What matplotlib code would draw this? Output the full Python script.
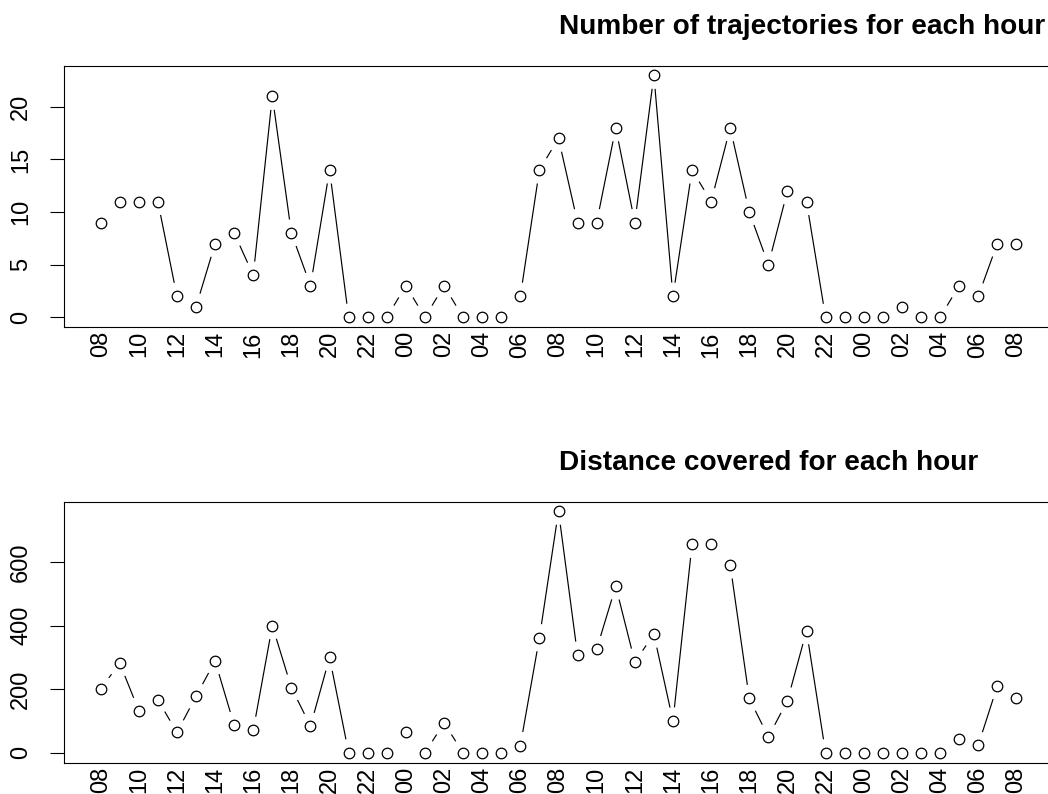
import numpy as np
import matplotlib
matplotlib.use("Agg")
import matplotlib.pyplot as plt

plt.rcParams['font.family'] = ['Liberation Sans', 'DejaVu Sans']

hours = ["08","09","10","11","12","13","14","15","16","17","18","19","20","21","22","23",
         "00","01","02","03","04","05","06","07","08","09","10","11","12","13","14","15",
         "16","17","18","19","20","21","22","23",
         "00","01","02","03","04","05","06","07","08"]

trajectories = [9,11,11,11,2,1,7,8,4,21,8,3,14,0,0,0,
                3,0,3,0,0,0,2,14,17,9,9,18,9,23,2,14,11,18,10,5,12,11,0,0,
                0,0,1,0,0,3,2,7,7]

distance = [201,282,133,167,64,178,289,87,71,400,205,84,300,0,0,0,
            65,0,94,0,0,0,23,362,760,307,326,524,286,373,100,656,657,591,171,50,164,384,0,0,
            0,0,0,0,0,43,24,210,174]

titles = ["Number of trajectories for each hour", "Distance covered for each hour"]
yticks_list = [[0,5,10,15,20],[0,200,400,600]]

W, H = 1048, 794
fig = plt.figure(figsize=(W/100, H/100), dpi=100)

def px_axes(l, r, t, b):
    return [l/W, 1 - b/H, (r-l)/W, (b-t)/H]

axes_px = [(64, 1053, 65.5, 327), (64, 1053, 501.5, 762.5)]
title_base = [34.5, 470]
GAP = 14.3

for k, (vals, ttl, ytk) in enumerate(zip([trajectories, distance], titles, yticks_list)):
    l, r, t, b = axes_px[k]
    ax = fig.add_axes(px_axes(l, r, t, b))
    x = np.arange(len(vals))
    y = np.array(vals, dtype=float)
    n = len(vals)
    xr = (n - 1) * 0.04
    ax.set_xlim(-xr, n - 1 + xr)
    ymin, ymax = min(vals), max(vals)
    yr = (ymax - ymin) * 0.04
    ax.set_ylim(ymin - yr, ymax + yr)

    ax.plot(x, y, linestyle='none', marker='o', markersize=7.6, markerfacecolor='white',
            markeredgecolor='black', markeredgewidth=0.9, zorder=3, clip_on=False)

    # R type="b": segments with gaps around points
    pts = ax.transData.transform(np.column_stack([x, y]))
    inv = ax.transData.inverted()
    for i in range(n - 1):
        p0, p1 = pts[i], pts[i+1]
        d = p1 - p0
        L = np.hypot(*d)
        if L <= 2 * GAP:
            continue
        u = d / L
        a = inv.transform(p0 + u * GAP)
        bb = inv.transform(p1 - u * GAP)
        ax.plot([a[0], bb[0]], [a[1], bb[1]], color='black', linewidth=0.85, zorder=2)

    ax.set_xticks(x[::2])
    ax.set_xticklabels(hours[::2], rotation=90, fontsize=17)
    ax.tick_params(axis='x', length=0, pad=3)
    ax.set_yticks(ytk)
    ax.set_yticklabels([str(v) for v in ytk], rotation=90, va='center', fontsize=17)
    ax.tick_params(axis='y', length=10, width=0.8, pad=13)
    for s in ax.spines.values():
        s.set_linewidth(0.8)
        s.set_color('black')

    fig.text(559/W, 1 - title_base[k]/H, ttl, ha='left', va='baseline',
             fontsize=20.2, fontweight='bold')

fig.savefig("out.png", dpi=100)
